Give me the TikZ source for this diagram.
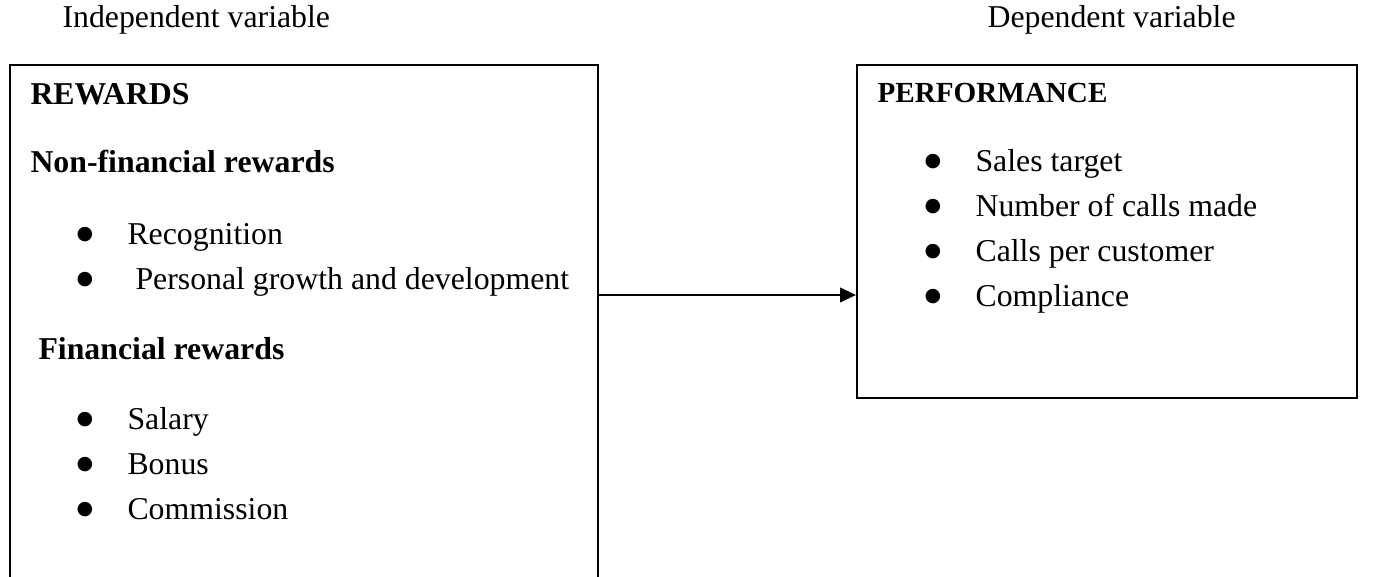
\documentclass[tikz,border=0pt]{standalone}
\usepackage{fontspec}
\setmainfont{Liberation Serif}
\newfontfamily\symfont{DejaVu Sans}
\usetikzlibrary{arrows.meta,fit}

\tikzset{
  framebox/.style={draw, line width=0.8pt, inner sep=0pt},
  txt/.style={anchor=base west, inner sep=0pt, font=\fontsize{12}{14}\selectfont},
  head/.style={txt, font=\fontsize{12}{14}\selectfont\bfseries},
  dot/.style={anchor=base, inner sep=0pt, font=\symfont\fontsize{7.2}{8}\selectfont},
  link/.style={line width=0.8pt, -{Triangle[length=6pt,width=5.5pt]}}
}
\newcommand\blt{\raisebox{2.1pt}{●}}

\begin{document}
\begin{tikzpicture}[x=0.3774pt,y=-0.3774pt]
      \path[use as bounding box] (0,0) rectangle (1375,577); % page size
      \clip (0,0) rectangle (1375,577);

      % the two frames
      \node[framebox, fit={(10,65) (598,640)}] (rewards) {};
      \node[framebox, fit={(857,65) (1357,398)}] (perf) {};

      % captions above
      \node[txt] (indep) at (62,28) {Independent variable};
      \node[txt] (dep) at (987,28) {Dependent variable};

      % left frame
      \node[head] (rw) at (30,105) {REWARDS};
      \node[head] (nfin) at (30,173) {Non-financial rewards};
      \node[head] (fin) at (38,360) {Financial rewards};
      \foreach \txt/\xx/\yy [count=\i] in {Recognition/127/245, Personal growth and development/135/290,
          Salary/127/430, Bonus/127/475, Commission/127/520} {
        \node[dot] (lb\i) at (85,\yy) {\blt};
        \node[txt] (li\i) at (\xx,\yy) {\txt};
      }

      % right frame
      \node[head, font=\fontsize{11}{13}\selectfont\bfseries] (pf) at (877,103) {PERFORMANCE};
      \foreach \txt/\yy [count=\i] in {Sales target/172, Number of calls made/217,
          Calls per customer/262, Compliance/307} {
        \node[dot] (rb\i) at (933,\yy) {\blt};
        \node[txt] (ri\i) at (975,\yy) {\txt};
      }

      \coordinate (tip) at (0,295);
      \draw[link] (rewards.east |- tip) -- (perf.west |- tip);
\end{tikzpicture}
\end{document}
